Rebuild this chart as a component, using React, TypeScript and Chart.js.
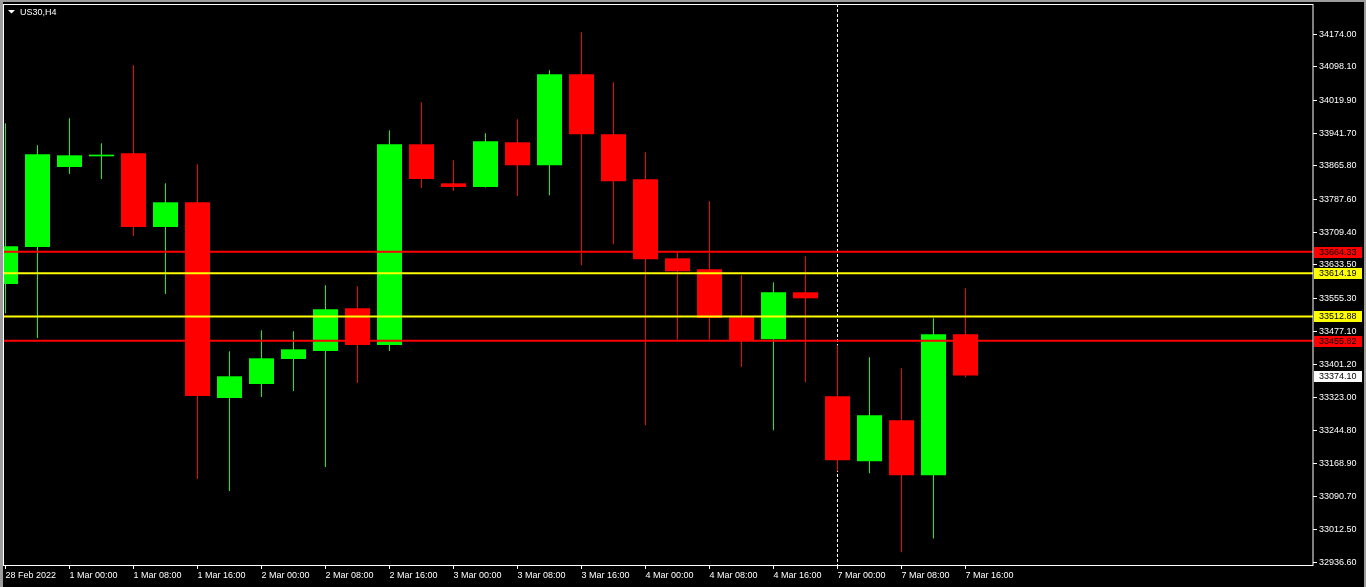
import React, { useEffect, useRef } from 'react';
import { Chart, registerables } from 'chart.js';

Chart.register(...registerables);

// ---- data ----
const symbolTitle = 'US30,H4';

const candleIndex = [0, 1, 2, 3, 4, 5, 6, 7, 8, 9, 10, 11, 12, 13, 14, 15, 16, 17, 18, 19, 20, 21, 22, 23, 24, 25, 26, 27, 28, 29, 30];

const opens = [
  33588.8, 33675.5, 33863.0, 33888.0, 33895.1, 33722.4, 33780.3, 33321.6, 33354.5, 33413.0,
  33431.8, 33531.9, 33445.8, 33916.2, 33824.8, 33816.1, 33920.9, 33867.0, 34080.3, 33939.6,
  33834.2, 33649.0, 33623.3, 33510.8, 33459.2, 33569.4, 33325.6, 33173.3, 33269.4, 33140.5,
  33470.9,
];
const highs = [
  33965.4, 33913.9, 33977.1, 33918.6, 34101.3, 33824.8, 33869.3, 33431.1, 33480.3, 33478.0,
  33585.8, 33583.4, 33949.0, 34014.6, 33878.7, 33942.0, 33974.8, 34089.6, 34178.7, 34061.5,
  33897.5, 33665.4, 33782.6, 33609.2, 33592.8, 33653.7, 33445.1, 33417.0, 33391.2, 33508.4,
  33578.7,
];
const lows = [
  33520.1, 33462.3, 33846.6, 33834.9, 33701.3, 33565.4, 33131.8, 33103.7, 33324.0, 33338.0,
  33159.9, 33356.8, 33431.8, 33813.8, 33806.8, 33815.0, 33795.0, 33796.7, 33632.6, 33681.8,
  33257.7, 33458.5, 33458.5, 33394.3, 33245.9, 33358.4, 33149.9, 33145.2, 32960.0, 32992.2,
  33370.0,
];
const closes = [
  33677.2, 33892.8, 33890.4, 33892.0, 33722.4, 33780.3, 33326.3, 33372.5, 33414.7, 33435.8,
  33529.5, 33445.8, 33916.2, 33834.9, 33816.1, 33923.2, 33867.0, 34080.3, 33939.6, 33829.5,
  33646.7, 33618.6, 33509.1, 33457.6, 33569.4, 33555.3, 33175.6, 33281.1, 33140.5, 33470.9,
  33374.1,
];

const xTickIndex = [0, 2, 4, 6, 8, 10, 12, 14, 16, 18, 20, 22, 24, 26, 28, 30];
const xTickLabels = [
  '28 Feb 2022', '1 Mar 00:00', '1 Mar 08:00', '1 Mar 16:00', '2 Mar 00:00', '2 Mar 08:00',
  '2 Mar 16:00', '3 Mar 00:00', '3 Mar 08:00', '3 Mar 16:00', '4 Mar 00:00', '4 Mar 08:00',
  '4 Mar 16:00', '7 Mar 00:00', '7 Mar 08:00', '7 Mar 16:00',
];

const yTickValues = [
  34174.0, 34098.1, 34019.9, 33941.7, 33865.8, 33787.6, 33709.4, 33633.5, 33555.3,
  33477.1, 33401.2, 33323.0, 33244.8, 33168.9, 33090.7, 33012.5, 32936.6,
];

const levelValues = [33664.33, 33614.19, 33512.88, 33455.82];
const levelColors = ['#ff0000', '#ffff00', '#ffff00', '#ff0000'];
const bidValue = 33374.1;
const separatorIndex = 26;

const FONT = '"Liberation Sans", Arial, sans-serif';
const UP = '#00ff00';
const DOWN = '#ff0000';

export default function App() {
  const ref = useRef<HTMLCanvasElement>(null);

  useEffect(() => {
    document.body.style.margin = '0';
    document.body.style.background = '#000';
    const canvas = ref.current;
    if (!canvas) return;

    const colorsOf = candleIndex.map((i) => (closes[i] >= opens[i] ? UP : DOWN));

    const mtPlugin = {
      id: 'mtPlugin',
      beforeDraw(chart: any) {
        const { ctx, width, height } = chart;
        ctx.save();
        ctx.fillStyle = '#9c9c9c';
        ctx.fillRect(0, 0, width, height);
        ctx.fillStyle = '#000000';
        ctx.fillRect(3, 2, width - 5, height - 2);
        ctx.restore();
      },
      beforeDatasetsDraw(chart: any) {
        const { ctx, chartArea, scales } = chart;
        const x = scales.x.getPixelForValue(separatorIndex);
        ctx.save();
        ctx.strokeStyle = '#ffffff';
        ctx.lineWidth = 1;
        ctx.setLineDash([3, 2]);
        ctx.beginPath();
        ctx.moveTo(x, chartArea.top);
        ctx.lineTo(x, chartArea.bottom);
        ctx.stroke();
        ctx.restore();
      },
      afterDatasetsDraw(chart: any) {
        const { ctx, chartArea, scales } = chart;
        ctx.save();
        ctx.lineWidth = 2;
        levelValues.forEach((v, k) => {
          const y = scales.y.getPixelForValue(v);
          ctx.strokeStyle = levelColors[k];
          ctx.beginPath();
          ctx.moveTo(chartArea.left, y);
          ctx.lineTo(chartArea.right, y);
          ctx.stroke();
        });
        ctx.restore();
      },
      afterDraw(chart: any) {
        const { ctx, chartArea, scales } = chart;
        ctx.save();
        // frame
        ctx.strokeStyle = '#ffffff';
        ctx.lineWidth = 1;
        ctx.strokeRect(chartArea.left - 0.5, chartArea.top + 0.5, chartArea.right - chartArea.left + 0.5, chartArea.bottom - chartArea.top);
        // price boxes
        ctx.font = `9px ${FONT}`;
        ctx.textBaseline = 'middle';
        ctx.textAlign = 'left';
        const drawBox = (v: number, fill: string) => {
          const y = Math.round(scales.y.getPixelForValue(v));
          ctx.fillStyle = fill;
          ctx.fillRect(chartArea.right + 1, y - 5, 48, 11);
          ctx.fillStyle = '#000000';
          ctx.fillText(v.toFixed(2), chartArea.right + 6, y + 0.5);
        };
        levelValues.forEach((v, k) => drawBox(v, levelColors[k]));
        drawBox(bidValue, '#ffffff');
        // title
        ctx.fillStyle = '#ffffff';
        ctx.beginPath();
        ctx.moveTo(8, 10);
        ctx.lineTo(15, 10);
        ctx.lineTo(11.5, 13.5);
        ctx.closePath();
        ctx.fill();
        ctx.font = `9px ${FONT}`;
        ctx.textBaseline = 'middle';
        ctx.fillText(symbolTitle, 20, 12.5);
        ctx.restore();
      },
    };

    const chart = new Chart(canvas, {
      type: 'bar',
      data: {
        datasets: [
          {
            label: 'wick',
            data: candleIndex.map((i) => ({ x: i, y: [lows[i], highs[i]] })),
            backgroundColor: colorsOf,
            borderWidth: 0,
            barThickness: 1,
            grouped: false,
            inflateAmount: 0,
            order: 2,
          } as any,
          {
            label: 'body',
            data: candleIndex.map((i) => ({ x: i, y: [opens[i], closes[i]] })),
            backgroundColor: colorsOf,
            borderWidth: 0,
            barThickness: 25,
            grouped: false,
            inflateAmount: 0,
            order: 1,
          } as any,
        ],
      },
      options: {
        animation: false,
        responsive: false,
        devicePixelRatio: 1,
        layout: { padding: { left: 4, top: 4, right: 0, bottom: 0 } },
        plugins: {
          legend: { display: false },
          tooltip: { enabled: false },
          title: { display: false },
        },
        scales: {
          x: {
            type: 'linear',
            position: 'bottom',
            offset: false,
            min: -1.5 / 32,
            max: (1313 - 5.5) / 32,
            border: { display: false },
            grid: {
              offset: false,
              drawOnChartArea: false,
              drawTicks: true,
              tickLength: 4,
              tickColor: '#ffffff',
              color: '#ffffff',
            },
            afterBuildTicks: (axis: any) => {
              axis.ticks = xTickIndex.map((v) => ({ value: v }));
            },
            afterFit: (axis: any) => {
              axis.height = 22;
              axis.paddingLeft = 0;
              axis.paddingRight = 0;
              axis.paddingTop = 0;
              axis.paddingBottom = 0;
            },
            ticks: {
              autoSkip: false,
              maxRotation: 0,
              minRotation: 0,
              align: 'start',
              padding: 1,
              color: '#ffffff',
              font: { family: FONT, size: 9 },
              callback: (v: any) => {
                const k = xTickIndex.indexOf(Number(v));
                return k >= 0 ? xTickLabels[k] : '';
              },
            },
          } as any,
          y: {
            type: 'linear',
            position: 'right',
            min: 32930.3,
            max: 34245.0,
            border: { display: false },
            grid: {
              drawOnChartArea: false,
              drawTicks: true,
              tickLength: 4,
              tickColor: '#ffffff',
              color: '#ffffff',
            },
            afterBuildTicks: (axis: any) => {
              axis.ticks = yTickValues.map((v) => ({ value: v }));
            },
            afterFit: (axis: any) => {
              axis.width = 53;
              axis.paddingTop = 0;
              axis.paddingBottom = 0;
              axis.paddingLeft = 0;
              axis.paddingRight = 0;
            },
            ticks: {
              padding: 2,
              color: '#ffffff',
              font: { family: FONT, size: 9 },
              callback: (v: any) => Number(v).toFixed(2),
            },
          } as any,
        },
      },
      plugins: [mtPlugin],
    } as any);

    return () => {
      chart.destroy();
    };
  }, []);

  return (
    <div style={{ width: 1366, height: 587, background: '#000' }}>
      <canvas ref={ref} width={1366} height={587} style={{ display: 'block' }} />
    </div>
  );
}
